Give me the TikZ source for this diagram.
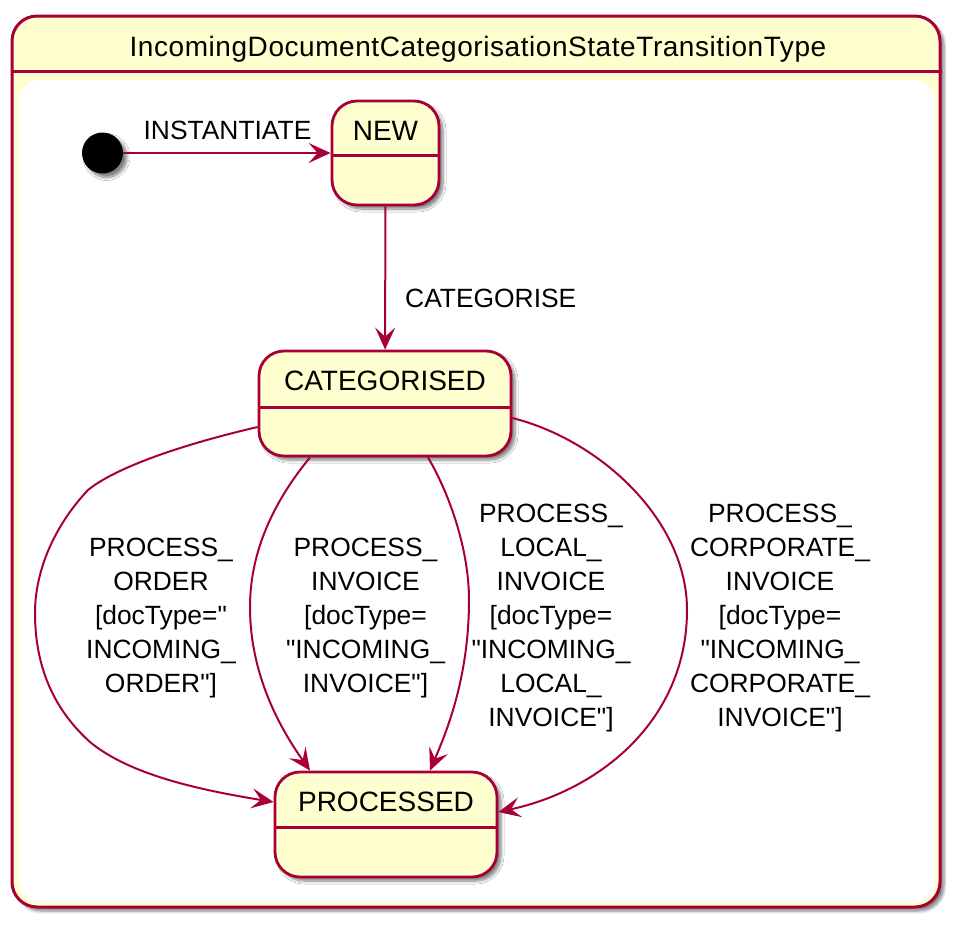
\documentclass[tikz,border=0pt]{standalone}
\usepackage{fontspec}
\setmainfont{Liberation Sans}
\usetikzlibrary{arrows.meta,shadows.blur}
\definecolor{pborder}{HTML}{A80036}
\definecolor{pfill}{HTML}{FEFECE}
\newcommand{\qq}{\textquotedbl}
\begin{document}
\begin{tikzpicture}[x=1pt,y=-1pt,
  shad/.style={blur shadow={shadow xshift=4pt, shadow yshift=-4pt, shadow blur radius=3pt, shadow blur steps=6, shadow opacity=50}},
  compbox/.style={draw=pborder, fill=pfill, line width=3pt, rounded corners=25pt, inner sep=0pt, shad},
  stbox/.style={draw=pborder, fill=pfill, line width=2.8pt, rounded corners=25pt, inner sep=0pt, shad},
  sepline/.style={draw=pborder, line width=2.8pt},
  stname/.style={font=\fontsize{28}{34}\selectfont, anchor=base, inner sep=0pt},
  lbl/.style={font=\fontsize{26.4}{34}\selectfont, align=center, inner sep=0pt},
  tr/.style={draw=pborder, line width=2pt, -{Stealth[length=22pt,width=20pt,inset=9pt]}},
]
\useasboundingbox (0,0) rectangle (964,930);
% composite state
\node[compbox, minimum width=928pt, minimum height=891pt] (comp) at (476,461.5) {};
\draw[draw=pborder, line width=3pt] ([yshift=-57pt]comp.north west) -- ([yshift=-57pt]comp.north east);
\fill[white, rounded corners=20pt] (19,80) rectangle (935,902);
\node[font=\fontsize{28}{34}\selectfont\addfontfeature{LetterSpace=2}, anchor=base, inner sep=0pt] (title) at (478,56.7) {IncomingDocumentCategorisationStateTransitionType};
% initial
\node[circle, fill=black, minimum size=41pt, inner sep=0pt, shad] (init) at (102.5,153) {};
% states
\node[stbox, minimum width=107pt, minimum height=104pt] (new) at (385.5,153) {};
\draw[sepline] ([yshift=-56pt]new.north west) -- ([yshift=-56pt]new.north east);
\node[stname] (newt) at ([yshift=-40.7pt]new.north) {NEW};
\node[stbox, minimum width=252pt, minimum height=105pt] (cat) at (385,403.5) {};
\draw[sepline] ([yshift=-58pt]cat.north west) -- ([yshift=-58pt]cat.north east);
\node[stname] (catt) at ([yshift=-40.7pt]cat.north) {CATEGORISED};
\node[stbox, minimum width=222pt, minimum height=105pt] (proc) at (386,824.5) {};
\draw[sepline] ([yshift=-57pt]proc.north west) -- ([yshift=-57pt]proc.north east);
\node[stname] (proct) at ([yshift=-40.7pt]proc.north) {PROCESSED};
% transitions
\draw[tr] (init) -- (new);
\draw[tr] (new) -- (cat);
\draw[tr] ([yshift=-23.5pt]cat.west) .. controls (180,445) and (115,468) .. (88,490) .. controls (55,525) and (35,570) .. (35,613) .. controls (35,675) and (60,715) .. (90,742) .. controls (130,775) and (200,790) .. ([yshift=22.5pt]proc.west);
\draw[tr] ([xshift=-75pt]cat.south) .. controls (275,500) and (250,550) .. (250,607) .. controls (250,680) and (285,735) .. ([xshift=-76pt]proc.north);
\draw[tr] ([xshift=43pt]cat.south) .. controls (450,495) and (469,550) .. (469,600) .. controls (469,680) and (445,735) .. ([xshift=44pt]proc.north);
\draw[tr] ([yshift=-14.5pt]cat.east) .. controls (600,440) and (687,520) .. (687,610) .. controls (687,720) and (600,790) .. ([yshift=12.5pt]proc.east);
% labels
\node[lbl, anchor=base] (l1) at (227.5,139) {INSTANTIATE};
\node[lbl, anchor=base west] (l2) at (405,307) {CATEGORISE};
\node[lbl] (l3) at (161,618) {PROCESS\_\\ORDER\\{[}docType=\qq\\INCOMING\_\\ORDER\qq{]}};
\node[lbl] (l4) at (365.5,618) {PROCESS\_\\INVOICE\\{[}docType=\\\qq INCOMING\_\\INVOICE\qq{]}};
\node[lbl] (l5) at (551,618) {PROCESS\_\\LOCAL\_\\INVOICE\\{[}docType=\\\qq INCOMING\_\\LOCAL\_\\INVOICE\qq{]}};
\node[lbl] (l6) at (780,618) {PROCESS\_\\CORPORATE\_\\INVOICE\\{[}docType=\\\qq INCOMING\_\\CORPORATE\_\\INVOICE\qq{]}};
\end{tikzpicture}
\end{document}
